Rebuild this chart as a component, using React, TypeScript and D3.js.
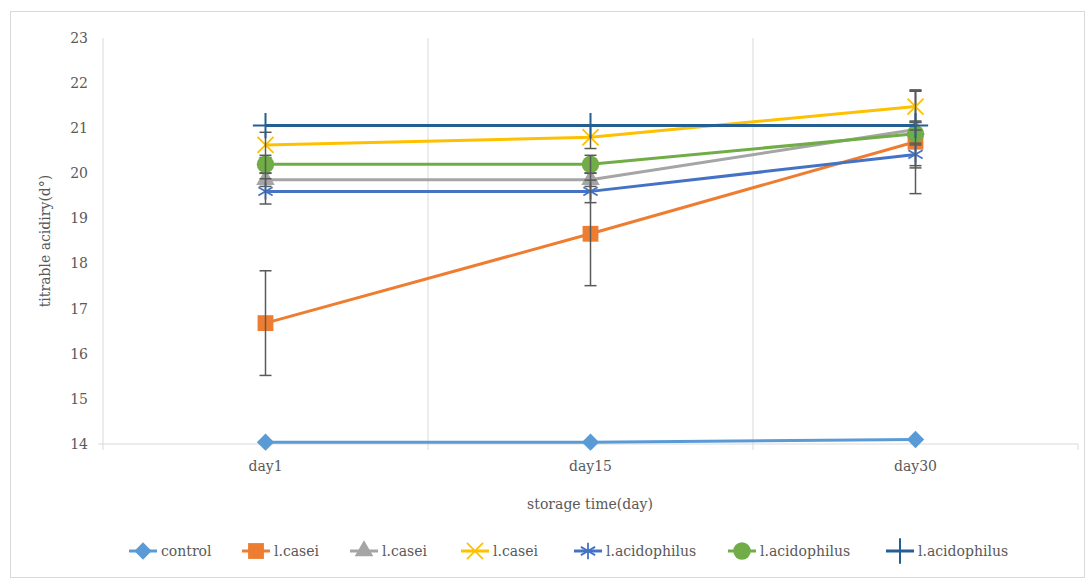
import React from "react";
import * as d3 from "d3";

const days = ["day1", "day15", "day30"];
const yTicks = [14, 15, 16, 17, 18, 19, 20, 21, 22, 23];

const seriesNames = ["control", "l.casei", "l.casei", "l.casei", "l.acidophilus", "l.acidophilus", "l.acidophilus"];
const seriesColors = ["#5B9BD5", "#ED7D31", "#A5A5A5", "#FFC000", "#4472C4", "#70AD47", "#255E91"];
const seriesMarkers = ["diamond", "square", "triangle", "times", "asterisk", "circle", "plus"];

const controlVals = [14.04, 14.04, 14.1];
const casei1Vals = [16.68, 18.66, 20.7];
const casei2Vals = [19.86, 19.86, 20.97];
const casei3Vals = [20.63, 20.8, 21.48];
const acid1Vals = [19.6, 19.6, 20.42];
const acid2Vals = [20.2, 20.2, 20.88];
const acid3Vals = [21.06, 21.06, 21.06];

const controlErr = [0, 0, 0];
const casei1Err = [1.16, 1.15, 1.15];
const casei2Err = [0.15, 0.15, 0.85];
const casei3Err = [0.28, 0.25, 0.35];
const acid1Err = [0.28, 0.25, 0.25];
const acid2Err = [0.2, 0.2, 0.25];
const acid3Err = [0, 0, 0.1];

const allVals = [controlVals, casei1Vals, casei2Vals, casei3Vals, acid1Vals, acid2Vals, acid3Vals];
const allErr = [controlErr, casei1Err, casei2Err, casei3Err, acid1Err, acid2Err, acid3Err];

const W = 1089;
const H = 582;
const plot = { left: 103, right: 1078, top: 38, bottom: 444 };
const font = "'DejaVu Serif', serif";
const textColor = "#595959";

function Marker({ kind, color, x, y }: { kind: string; color: string; x: number; y: number }) {
  const t = `translate(${x},${y})`;
  if (kind === "diamond") {
    return <path transform={t + " rotate(45)"} d={d3.symbol(d3.symbolSquare, 150)()!} fill={color} />;
  }
  if (kind === "square") {
    return <path transform={t} d={d3.symbol(d3.symbolSquare, 250)()!} fill={color} />;
  }
  if (kind === "triangle") {
    return <path transform={t} d={d3.symbol(d3.symbolTriangle, 150)()!} fill={color} />;
  }
  if (kind === "circle") {
    return <path transform={t} d={d3.symbol(d3.symbolCircle, 240)()!} fill={color} />;
  }
  if (kind === "times") {
    return <path transform={t} d={d3.symbol(d3.symbolTimes, 170)()!} fill="none" stroke={color} strokeWidth={1.8} />;
  }
  if (kind === "asterisk") {
    return <path transform={t} d={d3.symbol(d3.symbolAsterisk, 190)()!} fill="none" stroke={color} strokeWidth={1.8} />;
  }
  return <path transform={t} d={d3.symbol(d3.symbolPlus, 210)()!} fill="none" stroke={color} strokeWidth={2} />;
}

export default function App() {
  const x = d3.scaleBand<string>().domain(days).range([plot.left, plot.right]);
  const y = d3.scaleLinear().domain([14, 23]).range([plot.bottom, plot.top]);
  const cx = (d: string) => x(d)! + x.bandwidth() / 2;

  const line = d3
    .line<number>()
    .x((_, i) => cx(days[i]))
    .y((v) => y(v));

  const boundaries = days.map((d) => x(d)!).concat([plot.right]);

  const legendX = [143, 256, 364, 475, 588, 742, 900];
  const legendY = 551;

  return (
    <div style={{ position: "absolute", left: 0, top: 0 }}>
      <svg width={W} height={H} style={{ display: "block", background: "#fff" }}>
        <rect x={10.5} y={11.5} width={1074} height={566} fill="#fff" stroke="#d9d9d9" />

        {/* vertical gridlines between categories */}
        {boundaries.slice(1, -1).map((b) => (
          <line key={b} x1={b} x2={b} y1={plot.top} y2={plot.bottom} stroke="#d9d9d9" strokeWidth={1} />
        ))}

        {/* axes */}
        <line x1={plot.left} x2={plot.left} y1={plot.top} y2={plot.bottom} stroke="#d9d9d9" />
        <line x1={plot.left - 5} x2={plot.right} y1={plot.bottom} y2={plot.bottom} stroke="#d9d9d9" />
        {boundaries.map((b) => (
          <line key={"t" + b} x1={b} x2={b} y1={plot.bottom} y2={plot.bottom + 6} stroke="#d9d9d9" />
        ))}

        {yTicks.map((t) => (
          <text key={t} x={88} y={y(t)} dy="0.35em" textAnchor="end" fontFamily={font} fontSize={14} fill={textColor}>
            {t}
          </text>
        ))}
        {days.map((d) => (
          <text key={d} x={cx(d)} y={471} textAnchor="middle" fontFamily={font} fontSize={14} fill={textColor}>
            {d}
          </text>
        ))}

        <text x={590} y={509} textAnchor="middle" fontFamily={font} fontSize={14} fill={textColor}>
          storage time(day)
        </text>
        <text
          transform={`translate(50,${(plot.top + plot.bottom) / 2}) rotate(-90)`}
          textAnchor="middle"
          fontFamily={font}
          fontSize={14}
          fill={textColor}
        >
          titrable acidiry(d°)
        </text>

        {/* series */}
        {allVals.map((vals, si) => (
          <g key={si}>
            <path d={line(vals)!} fill="none" stroke={seriesColors[si]} strokeWidth={3} strokeLinejoin="round" />
            {vals.map((v, i) => (
              <Marker key={i} kind={seriesMarkers[si]} color={seriesColors[si]} x={cx(days[i])} y={y(v)} />
            ))}
            {vals.map((v, i) =>
              allErr[si][i] > 0 ? (
                <g key={"e" + i} stroke="#595959" strokeWidth={1.5}>
                  <line x1={cx(days[i])} x2={cx(days[i])} y1={y(v - allErr[si][i])} y2={y(v + allErr[si][i])} />
                  <line x1={cx(days[i]) - 6} x2={cx(days[i]) + 6} y1={y(v - allErr[si][i])} y2={y(v - allErr[si][i])} />
                  <line x1={cx(days[i]) - 6} x2={cx(days[i]) + 6} y1={y(v + allErr[si][i])} y2={y(v + allErr[si][i])} />
                </g>
              ) : null
            )}
          </g>
        ))}

        {/* legend */}
        {seriesNames.map((name, i) => (
          <g key={"l" + i}>
            <line x1={legendX[i] - 14} x2={legendX[i] + 14} y1={legendY} y2={legendY} stroke={seriesColors[i]} strokeWidth={3} />
            <Marker kind={seriesMarkers[i]} color={seriesColors[i]} x={legendX[i]} y={legendY} />
            <text x={legendX[i] + 18} y={legendY} dy="0.35em" fontFamily={font} fontSize={14} fill={textColor}>
              {name}
            </text>
          </g>
        ))}
      </svg>
    </div>
  );
}
